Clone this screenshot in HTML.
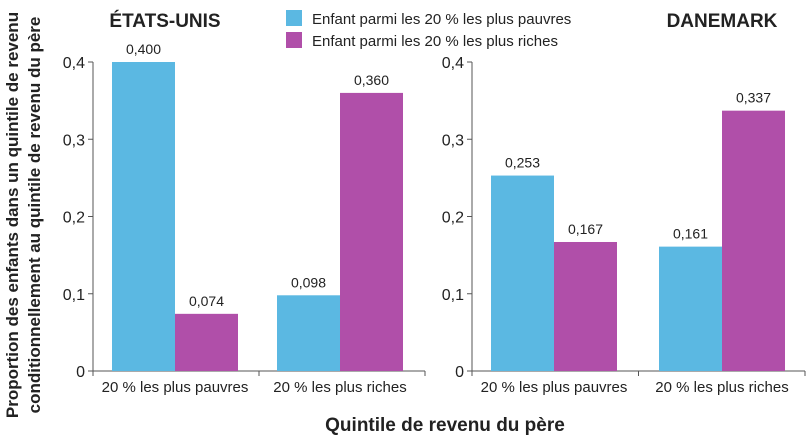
<!DOCTYPE html>
<html><head><meta charset="utf-8"><style>
body{margin:0;background:#fff;}
svg{display:block;font-family:"Liberation Sans",sans-serif;}
</style></head><body>
<svg id="c" width="810" height="442"></svg>
<script>
const categories=["20 % les plus pauvres","20 % les plus riches"];
const usPoor=[0.400,0.098];
const usRich=[0.074,0.360];
const dkPoor=[0.253,0.161];
const dkRich=[0.167,0.337];
const usLabelsPoor=["0,400","0,098"];
const usLabelsRich=["0,074","0,360"];
const dkLabelsPoor=["0,253","0,161"];
const dkLabelsRich=["0,167","0,337"];
const ticks=[0,0.1,0.2,0.3,0.4];
const tickLabels=["0","0,1","0,2","0,3","0,4"];
const NS="http://www.w3.org/2000/svg";
const svg=document.getElementById('c');
function mk(t,a,txt){const e=document.createElementNS(NS,t);for(const k in a)e.setAttribute(k,a[k]);if(txt!==undefined)e.textContent=txt;svg.appendChild(e);return e;}
const y0=371,yTop=62;
function y(v){return y0-(v/0.4)*(y0-yTop);}
function panel(ax,aEnd,groupStarts,poor,rich,lp,lr,title,titleX,nm){
  let e=mk('line',{x1:ax,y1:y(0.4),x2:ax,y2:y0,stroke:'#555','stroke-width':1});
  
  e=mk('line',{x1:ax,y1:y0,x2:aEnd,y2:y0,stroke:'#555','stroke-width':1});
  
  const mid=(ax+aEnd)/2;
  [ax,mid,aEnd].forEach(x=>{const t=mk('line',{x1:x,y1:y0,x2:x,y2:y0+5,stroke:'#555'});});
  ticks.forEach((v,i)=>{
    const t=mk('line',{x1:ax-5,y1:y(v),x2:ax,y2:y(v),stroke:'#555'});
    
    const l=mk('text',{x:ax-8,y:y(v)+6,'text-anchor':'end','font-size':16,fill:'#222'},tickLabels[i]);
    
  });
  categories.forEach((c,i)=>{
    const gx=groupStarts[i],w=63;
    const b1=mk('rect',{x:gx,y:y(poor[i]),width:w,height:y0-y(poor[i]),fill:'#5bb8e2'});
    
    const b2=mk('rect',{x:gx+w,y:y(rich[i]),width:w,height:y0-y(rich[i]),fill:'#b04fa9'});
    
    let t=mk('text',{x:gx+w/2,y:y(poor[i])-8,'text-anchor':'middle','font-size':14,fill:'#222'},lp[i]);
    
    t=mk('text',{x:gx+w*1.5,y:y(rich[i])-8,'text-anchor':'middle','font-size':14,fill:'#222'},lr[i]);
    
    t=mk('text',{x:gx+w,y:392,'text-anchor':'middle','font-size':15,fill:'#222'},c);
    
  });
  const tt=mk('text',{x:titleX,y:27,'text-anchor':'middle','font-size':19,'font-weight':'bold',fill:'#222'},title);
  
}
panel(93,425,[112,277],usPoor,usRich,usLabelsPoor,usLabelsRich,"ÉTATS-UNIS",165,'us');
panel(472,805,[491,659],dkPoor,dkRich,dkLabelsPoor,dkLabelsRich,"DANEMARK",722,'dk');
let e=mk('rect',{x:286,y:10,width:16,height:16,fill:'#5bb8e2'});
e=mk('text',{x:312,y:24,'font-size':15,fill:'#222'},"Enfant parmi les 20 % les plus pauvres");
e=mk('rect',{x:286,y:32,width:16,height:16,fill:'#b04fa9'});
e=mk('text',{x:312,y:46,'font-size':15,fill:'#222'},"Enfant parmi les 20 % les plus riches");
e=mk('text',{x:445,y:431,'text-anchor':'middle','font-size':19,'font-weight':'bold',fill:'#222'},"Quintile de revenu du père");
e=mk('text',{transform:'translate(18,215) rotate(-90)','text-anchor':'middle','font-size':17,'font-weight':'bold',fill:'#222'},"Proportion des enfants dans un quintile de revenu");
e=mk('text',{transform:'translate(40,215) rotate(-90)','text-anchor':'middle','font-size':17,'font-weight':'bold',fill:'#222'},"conditionnellement au quintile de revenu du père");
</script>
</body></html>
